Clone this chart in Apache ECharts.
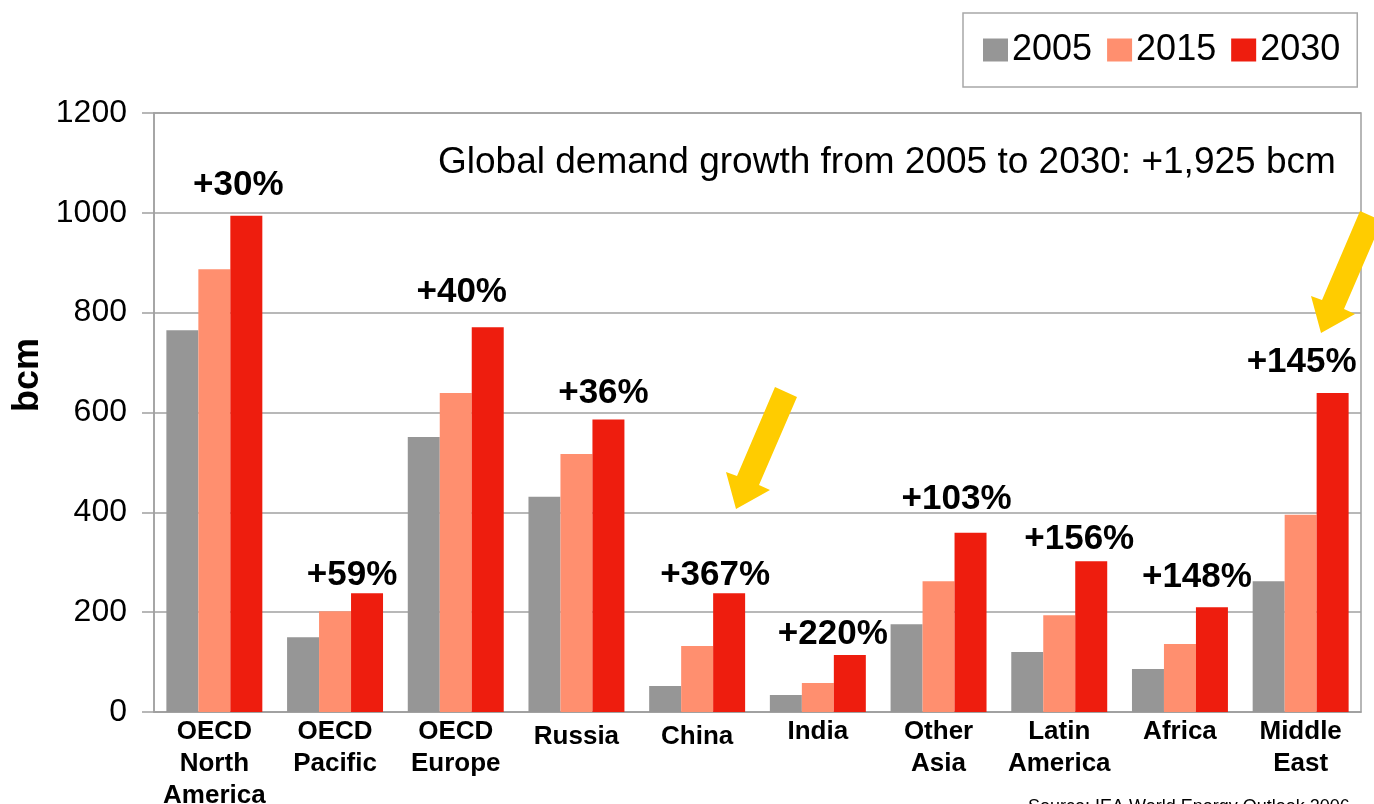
<!DOCTYPE html>
<html>
<head>
<meta charset="utf-8">
<script src="https://cdn.jsdelivr.net/npm/echarts@6/dist/echarts.min.js"></script>
<style>
html,body{margin:0;padding:0;background:#fff;}
#chart{width:1374px;height:804px;}
</style>
</head>
<body>
<div id="chart"></div>
<script>
// ---- data ----
const categories = ['OECD\nNorth\nAmerica','OECD\nPacific','OECD\nEurope','Russia','China','India','Other\nAsia','Latin\nAmerica','Africa','Middle\nEast'];
const seriesNames = ['2005','2015','2030'];
const values2005 = [765, 150, 551, 431, 52, 34, 176, 120, 86, 262];
const values2015 = [887, 202, 639, 517, 132, 58, 262, 194, 136, 395];
const values2030 = [994, 238, 771, 586, 238, 114, 359, 302, 210, 639];
const growthLabels = ['+30%','+59%','+40%','+36%','+367%','+220%','+103%','+156%','+148%','+145%'];
const yTicks = [0, 200, 400, 600, 800, 1000, 1200];
const annotation = 'Global demand growth from 2005 to 2030: +1,925 bcm';
const sourceText = 'Source: IEA World Energy Outlook 2006';

// ---- layout/style (not data) ----
const labelOffsets = [[-8,-8],[-15,5],[-26,-12],[-5,-4],[-14,5],[-17,2],[-14,-11],[-12,1],[-15,-7],[-31,-8]];
const catPadTop = {'Russia':5,'China':5};
const colors = ['#969696','#FF8F6F','#EE1D0E'];
const FONT = '"Liberation Sans", Arial, sans-serif';

const chart = echarts.init(document.getElementById('chart'));

const mkBar = (name, vals, color, withLabels) => ({
  name, type:'bar', barGap:'0%', barCategoryGap:'20.5%',
  itemStyle:{color},
  data: vals.map((v,i)=> withLabels ? {
    value:v,
    label:{show:true, position:'top', formatter:growthLabels[i], offset:labelOffsets[i],
      fontSize:35, fontWeight:'bold', color:'#000', fontFamily:FONT}
  } : v),
  emphasis:{disabled:true}
});

const arrow1 = [[775,387],[797,397],[759,485],[770,490],[736,509],[726,472],[737,476]];
const arrow2 = arrow1.map(p=>[p[0]+585,p[1]-176]);

chart.setOption({
  animation:false,
  textStyle:{fontFamily:FONT},
  grid:{left:154, right:13, top:113, bottom:92, show:true, borderColor:'#a0a0a0', borderWidth:1.5,
    containLabel:false, outerBoundsMode:'none'},
  legend:{
    data:seriesNames, left:963, top:13, padding:[19,17,19,20],
    borderColor:'#a8a8a8', borderWidth:1.5, itemWidth:25, itemHeight:23, itemGap:15,
    icon:'rect', textStyle:{fontSize:36, color:'#000', fontFamily:FONT, padding:[0,0,0,-1]}
  },
  xAxis:{
    type:'category',
    data:categories.map(c=>catPadTop[c] ? {value:c, textStyle:{padding:[catPadTop[c],0,0,0]}} : c),
    axisLine:{lineStyle:{color:'#a0a0a0', width:1.5}},
    axisTick:{show:false},
    axisLabel:{interval:0, margin:4, fontSize:26, fontWeight:'bold', lineHeight:32, color:'#000', fontFamily:FONT}
  },
  yAxis:{
    type:'value', min:yTicks[0], max:yTicks[yTicks.length-1], interval:yTicks[1]-yTicks[0],
    axisLine:{show:true, lineStyle:{color:'#a0a0a0', width:1.5}},
    axisTick:{show:true, inside:false, length:12, lineStyle:{color:'#a0a0a0', width:1.5}},
    splitLine:{lineStyle:{color:'#a0a0a0', width:1.5}},
    axisLabel:{margin:27, fontSize:32, color:'#000', fontFamily:FONT, formatter:v=>String(v)}
  },
  series:[
    mkBar(seriesNames[0], values2005, colors[0], false),
    mkBar(seriesNames[1], values2015, colors[1], false),
    mkBar(seriesNames[2], values2030, colors[2], true)
  ],
  graphic:[
    {type:'text', left:438, top:144, style:{text:annotation, fontSize:37, fill:'#000', fontFamily:FONT}},
    {type:'text', x:28, y:375, rotation:Math.PI/2,
      style:{text:'bcm', fontSize:36, fontWeight:'bold', fill:'#000', align:'center', verticalAlign:'middle', fontFamily:FONT}},
    {type:'text', x:1028, y:798, style:{text:sourceText, fontSize:18, fill:'#000', fontFamily:FONT}},
    {type:'polygon', shape:{points:arrow1}, style:{fill:'#FFCC00'}, z:10},
    {type:'polygon', shape:{points:arrow2}, style:{fill:'#FFCC00'}, z:10}
  ]
});
</script>
</body>
</html>
